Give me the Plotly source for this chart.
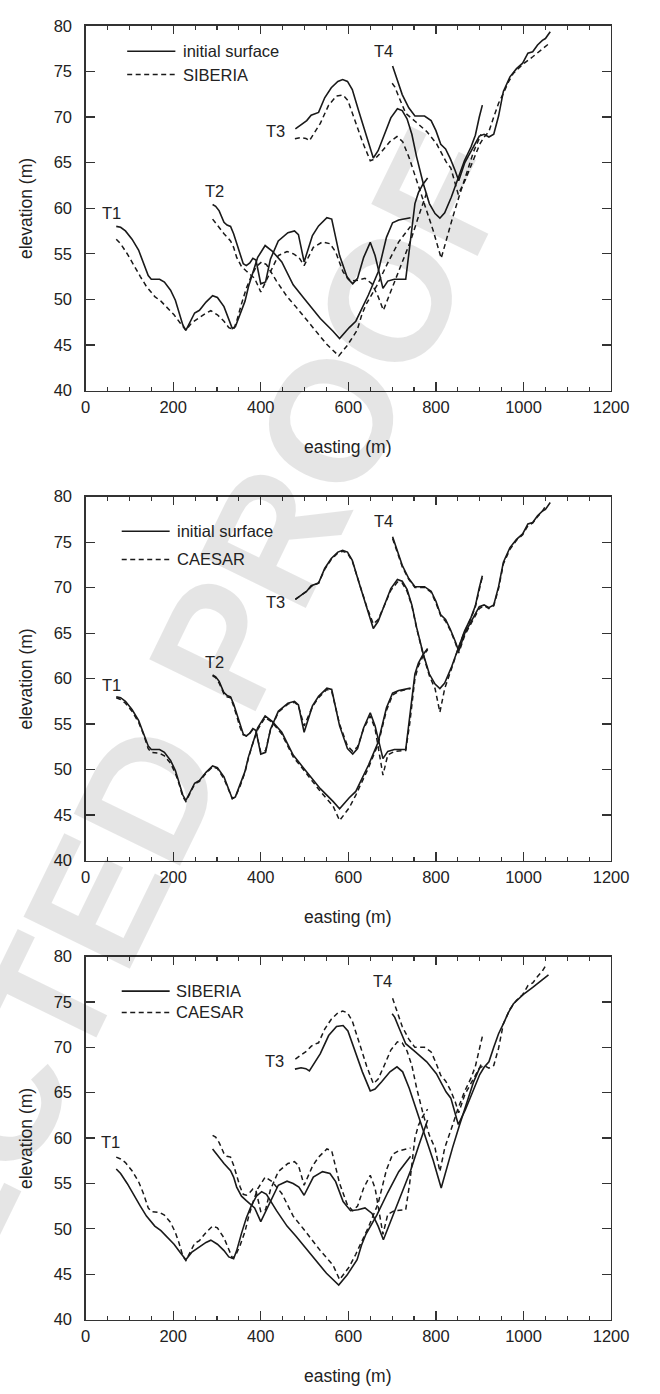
import plotly.graph_objects as go

# ---------------- data (easting m, elevation m) ----------------
# initial surface
init_t1_x = [70, 80, 91, 106, 121, 132, 143, 150, 169, 180, 194, 205, 213, 222, 229, 238, 249, 260, 275, 290, 301, 316, 331, 335, 342, 353, 364, 372, 382, 393, 410, 426, 448, 474, 499, 536, 565, 580, 602, 617, 646, 668, 687, 701, 715, 742]
init_t1_y = [58.0, 57.9, 57.5, 56.6, 55.4, 54.1, 52.6, 52.2, 52.2, 51.9, 51.0, 49.9, 48.7, 47.2, 46.6, 47.4, 48.5, 48.8, 49.7, 50.4, 50.2, 49.2, 47.4, 46.8, 47.0, 48.3, 49.8, 51.4, 53.0, 54.6, 55.9, 55.3, 54.1, 51.6, 50.1, 47.9, 46.5, 45.7, 46.9, 47.6, 50.5, 53.0, 56.8, 58.4, 58.7, 58.95]
init_t2_x = [290, 297, 305, 316, 323, 331, 338, 345, 353, 360, 367, 375, 382, 389, 400, 411, 422, 440, 462, 477, 486, 499, 518, 532, 551, 562, 580, 598, 610, 621, 635, 650, 661, 679, 690, 705, 731, 740, 752, 760, 770, 781]
init_t2_y = [60.4, 60.2, 59.7, 58.45, 58.15, 58.0, 57.2, 56.1, 54.8, 53.9, 53.7, 54.0, 54.5, 54.3, 51.7, 51.9, 54.4, 56.4, 57.3, 57.5, 57.1, 54.1, 57.0, 58.05, 58.95, 58.8, 54.8, 52.3, 51.7, 52.3, 54.6, 56.25, 54.8, 51.2, 52.0, 52.2, 52.2, 55.5, 60.5, 61.7, 62.6, 63.3]
init_t3_x = [479, 495, 505, 515, 521, 532, 546, 561, 576, 587, 598, 609, 624, 642, 657, 668, 682, 697, 712, 723, 734, 745, 756, 771, 785, 798, 809, 820, 835, 850, 865, 880, 890, 899, 906]
init_t3_y = [68.7, 69.2, 69.6, 70.2, 70.3, 70.5, 72.1, 73.2, 73.9, 74.1, 73.9, 73.0, 70.6, 67.8, 65.5, 66.3, 68.1, 69.9, 70.9, 70.7, 69.8, 68.1, 65.6, 62.7, 60.5, 59.4, 58.9, 59.5, 61.2, 63.3, 65.2, 66.7, 68.0, 70.0, 71.3]
init_t4_x = [701, 712, 723, 738, 752, 774, 789, 800, 811, 822, 833, 844, 852, 866, 881, 899, 910, 921, 932, 943, 954, 969, 984, 998, 1010, 1021, 1032, 1043, 1050, 1061]
init_t4_y = [75.6, 74.1, 72.45, 71.0, 70.1, 70.1, 69.6, 68.5, 67.0, 66.5, 65.4, 64.1, 63.0, 65.0, 66.3, 67.9, 68.1, 67.8, 68.1, 70.1, 72.8, 74.4, 75.3, 75.9, 77.0, 77.15, 77.9, 78.4, 78.6, 79.35]

# SIBERIA
sib_t1_x = [70, 80, 95, 110, 125, 139, 158, 172, 187, 202, 216, 229, 242, 257, 275, 286, 301, 316, 327, 338, 345, 356, 367, 378, 390, 402, 413, 436, 460, 480, 500, 525, 550, 578, 597, 620, 630, 640, 665, 690, 715, 742]
sib_t1_y = [56.6, 56.1, 55.0, 53.7, 52.5, 51.4, 50.3, 49.8, 49.0, 48.3, 47.4, 46.6, 47.4, 47.9, 48.5, 48.75, 48.3, 47.6, 46.9, 46.7, 47.6, 49.5, 51.2, 52.5, 53.6, 54.1, 53.8, 52.0, 50.3, 49.2, 48.0, 46.6, 45.1, 43.8, 44.9, 46.6, 48.2, 49.4, 51.5, 54.0, 56.3, 58.0]
sib_t2_x = [290, 301, 316, 331, 338, 345, 356, 367, 378, 386, 400, 410, 419, 440, 460, 474, 487, 499, 520, 541, 558, 571, 588, 605, 622, 638, 654, 668, 680, 698, 720, 742, 761, 781]
sib_t2_y = [58.8, 58.1, 57.2, 56.4, 55.7, 54.6, 53.6, 53.1, 52.6, 52.3, 50.8, 51.8, 52.8, 54.8, 55.25, 55.0, 54.6, 53.7, 55.7, 56.3, 56.1, 55.2, 53.0, 52.0, 52.1, 52.3, 51.7, 50.3, 48.8, 51.0, 53.7, 56.4, 59.2, 62.0]
sib_t3_x = [478, 492, 503, 511, 536, 555, 573, 588, 599, 614, 632, 650, 661, 676, 695, 711, 724, 739, 757, 775, 794, 812, 827, 838, 853, 867, 886, 903]
sib_t3_y = [67.6, 67.75, 67.65, 67.4, 69.3, 71.3, 72.3, 72.4, 71.8, 69.8, 67.3, 65.2, 65.4, 66.2, 67.3, 67.85, 67.3, 65.5, 62.95, 60.2, 57.5, 54.5, 57.15, 58.95, 61.3, 63.3, 66.2, 68.1]
sib_t4_x = [700, 706, 717, 731, 753, 779, 801, 823, 834, 845, 851, 867, 889, 900, 910, 921, 932, 943, 955, 965, 977, 999, 1021, 1035, 1050, 1057]
sib_t4_y = [73.7, 73.3, 72.0, 70.4, 69.5, 68.4, 67.1, 65.1, 64.4, 62.6, 61.5, 63.1, 65.7, 67.0, 67.8, 68.4, 70.0, 71.5, 72.7, 73.8, 74.8, 75.8, 76.6, 77.15, 77.7, 78.0]

# CAESAR
cae_t1_x = [70, 80, 91, 106, 121, 132, 143, 150, 169, 180, 194, 205, 213, 222, 229, 238, 249, 260, 275, 290, 301, 316, 331, 335, 342, 353, 364, 372, 382, 393, 410, 426, 448, 474, 499, 536, 565, 580, 602, 617, 646, 668, 687, 701, 715, 742]
cae_t1_y = [57.9, 57.7, 57.3, 56.4, 55.2, 53.9, 52.3, 51.9, 51.8, 51.5, 50.7, 49.6, 48.5, 47.0, 46.5, 47.3, 48.4, 48.7, 49.6, 50.3, 50.1, 49.0, 47.3, 46.8, 47.0, 48.2, 49.7, 51.3, 52.9, 54.4, 55.7, 55.2, 53.9, 51.4, 49.9, 47.6, 46.0, 44.4, 45.8, 47.2, 50.2, 52.8, 56.5, 58.2, 58.6, 58.9]
cae_t2_x = [290, 297, 305, 316, 323, 331, 338, 345, 353, 360, 367, 375, 382, 389, 400, 411, 422, 440, 462, 477, 486, 499, 518, 532, 551, 562, 580, 598, 610, 621, 635, 650, 661, 679, 690, 705, 731, 740, 752, 760, 770, 781]
cae_t2_y = [60.3, 60.1, 59.5, 58.3, 58.0, 57.9, 57.0, 55.9, 54.6, 53.8, 53.7, 54.0, 54.4, 54.2, 51.9, 52.1, 54.3, 56.3, 57.2, 57.4, 57.0, 54.8, 56.9, 57.9, 58.8, 58.6, 55.0, 52.6, 52.0, 52.5, 54.5, 55.9, 54.5, 49.4, 51.6, 52.0, 52.1, 55.0, 60.0, 61.4, 62.4, 63.2]
cae_t3_x = [479, 495, 505, 515, 521, 532, 546, 561, 576, 587, 598, 609, 624, 642, 657, 668, 682, 697, 712, 723, 734, 745, 756, 771, 785, 798, 809, 820, 835, 850, 865, 880, 890, 899, 906]
cae_t3_y = [68.7, 69.2, 69.6, 70.1, 70.3, 70.5, 72.0, 73.1, 73.8, 74.0, 73.8, 72.9, 70.5, 67.9, 66.0, 66.5, 68.0, 69.7, 70.6, 70.5, 69.6, 68.0, 65.5, 62.6, 60.3, 58.9, 56.3, 58.9, 61.0, 63.2, 65.1, 66.6, 67.9, 69.9, 71.2]
cae_t4_x = [701, 712, 723, 738, 752, 774, 789, 800, 811, 822, 833, 844, 852, 866, 881, 899, 910, 921, 932, 943, 954, 969, 984, 998, 1010, 1021, 1032, 1043, 1052]
cae_t4_y = [75.4, 73.9, 72.3, 70.9, 70.0, 70.0, 69.5, 68.3, 66.9, 66.3, 65.3, 64.0, 62.8, 64.8, 66.1, 67.7, 68.0, 67.7, 68.0, 69.9, 72.6, 74.2, 75.2, 75.8, 76.8, 77.1, 77.8, 78.4, 79.1]

x_ticks = [0, 200, 400, 600, 800, 1000, 1200]
y_ticks = [40, 45, 50, 55, 60, 65, 70, 75, 80]
transect_labels = ["T1", "T2", "T3", "T4"]

# ---------------- layout geometry (pixels) ----------------
W, H = 660, 1394
X0, X1 = 83.5, 628.0
panels = [(17.0, 386.5), (494.0, 862.7), (960.0, 1327.7)]
FONT = "Liberation Sans, Arial, sans-serif"
INK = "#1a1a1a"
AX = "#333333"

def py(p):
    return 1 - p / H

fig = go.Figure()

initial = [(init_t1_x, init_t1_y), (init_t2_x, init_t2_y), (init_t3_x, init_t3_y), (init_t4_x, init_t4_y)]
siberia = [(sib_t1_x, sib_t1_y), (sib_t2_x, sib_t2_y), (sib_t3_x, sib_t3_y), (sib_t4_x, sib_t4_y)]
caesar = [(cae_t1_x, cae_t1_y), (cae_t2_x, cae_t2_y), (cae_t3_x, cae_t3_y), (cae_t4_x, cae_t4_y)]

panel_sets = [
    (initial, siberia, "initial surface", "SIBERIA"),
    (initial, caesar, "initial surface", "CAESAR"),
    (siberia, caesar, "SIBERIA", "CAESAR"),
]

DASH = "5px,3.5px"

for i, (solid_set, dash_set, lab_s, lab_d) in enumerate(panel_sets):
    xa = "x" if i == 0 else f"x{i+1}"
    ya = "y" if i == 0 else f"y{i+1}"
    for (xs, ys) in solid_set:
        fig.add_trace(go.Scatter(x=xs, y=ys, mode="lines", xaxis=xa, yaxis=ya,
                                 line=dict(color=INK, width=1.6), showlegend=False, hoverinfo="skip"))
    for (xs, ys) in dash_set:
        fig.add_trace(go.Scatter(x=xs, y=ys, mode="lines", xaxis=xa, yaxis=ya,
                                 line=dict(color=INK, width=1.5, dash=DASH), showlegend=False, hoverinfo="skip"))

axis_common = dict(showgrid=False, zeroline=False, showline=True, linecolor=AX, linewidth=1.3,
                   mirror="allticks", ticks="inside", tickcolor=AX, tickwidth=1.2,
                   tickfont=dict(family=FONT, size=16.5, color="#222"))

layout = dict(width=W, height=H, margin=dict(l=0, r=0, t=0, b=0),
              paper_bgcolor="white", plot_bgcolor="white", showlegend=False)

for i, (top, bot) in enumerate(panels):
    xk = "xaxis" if i == 0 else f"xaxis{i+1}"
    yk = "yaxis" if i == 0 else f"yaxis{i+1}"
    ya = "y" if i == 0 else f"y{i+1}"
    xa = "x" if i == 0 else f"x{i+1}"
    layout[xk] = dict(axis_common, domain=[X0 / W, X1 / W], range=[0, 1200], anchor=ya,
                      tickvals=x_ticks, ticklen=8.5, ticklabelstandoff=1,
                      minor=dict(dtick=50, tick0=0, ticks="inside", ticklen=4, tickcolor=AX, tickwidth=1.1))
    layout[yk] = dict(axis_common, domain=[py(bot), py(top)], range=[40, 80], anchor=xa,
                      tickvals=y_ticks, ticklen=9, ticklabelstandoff=9)

fig.update_layout(**layout)

annotations = []
shapes = []

# watermark
annotations.append(dict(text="<b>UNCORRECTED PROOF</b>", xref="paper", yref="paper",
                        x=23 / W, y=py(1048), xanchor="center", yanchor="middle",
                        textangle=-64, showarrow=False,
                        font=dict(family=FONT, size=172, color="rgba(0,0,0,0.10)")))

legend_pos = [
    dict(x0=95, x1=205, xt=217, ys=77.2, yd=74.65),
    dict(x0=82.5, x1=192, xt=205, ys=76.2, yd=73.1),
    dict(x0=82.5, x1=192, xt=203, ys=76.2, yd=73.85),
]
label_pos = [
    [(59, 59.5), (293.5, 61.85), (432.5, 68.5), (680, 77.25)],
    [(59, 59.35), (295, 61.8), (432.5, 68.4), (680, 77.3)],
    [(58, 59.55), None, (431, 68.45), (679, 77.35)],
]

for i, (top, bot) in enumerate(panels):
    xa = "x" if i == 0 else f"x{i+1}"
    ya = "y" if i == 0 else f"y{i+1}"
    _, _, lab_s, lab_d = panel_sets[i]
    lp = legend_pos[i]
    shapes.append(dict(type="line", xref=xa, yref=ya, x0=lp["x0"], x1=lp["x1"], y0=lp["ys"], y1=lp["ys"],
                       line=dict(color=INK, width=1.6)))
    shapes.append(dict(type="line", xref=xa, yref=ya, x0=lp["x0"], x1=lp["x1"], y0=lp["yd"], y1=lp["yd"],
                       line=dict(color=INK, width=1.5, dash=DASH)))
    annotations.append(dict(text=lab_s, xref=xa, yref=ya, x=lp["xt"], y=lp["ys"], xanchor="left",
                            yanchor="middle", showarrow=False, font=dict(family=FONT, size=16.5, color="#222")))
    annotations.append(dict(text=lab_d, xref=xa, yref=ya, x=lp["xt"], y=lp["yd"], xanchor="left",
                            yanchor="middle", showarrow=False, font=dict(family=FONT, size=16.5, color="#222")))
    for lab, pos in zip(transect_labels, label_pos[i]):
        if pos is None:
            continue
        annotations.append(dict(text=lab, xref=xa, yref=ya, x=pos[0], y=pos[1], xanchor="center",
                                yanchor="middle", showarrow=False, font=dict(family=FONT, size=16.5, color="#222")))
    annotations.append(dict(text="easting (m)", xref="paper", yref="paper", x=(X0 + X1) / 2 / W,
                            y=py(bot + 57), xanchor="center", yanchor="middle", showarrow=False,
                            font=dict(family=FONT, size=17.5, color="#222")))
    annotations.append(dict(text="elevation (m)", xref="paper", yref="paper", x=21.7 / W,
                            y=py((top + bot) / 2), xanchor="center", yanchor="middle", showarrow=False,
                            textangle=-90, font=dict(family=FONT, size=17.5, color="#222")))

fig.update_layout(annotations=annotations, shapes=shapes)
fig.write_html("out.html",
               config={"displayModeBar": False, "staticPlot": True},
               post_script="document.body.style.margin='0px';document.body.style.overflow='hidden';"
                           "document.documentElement.style.overflow='hidden';")
